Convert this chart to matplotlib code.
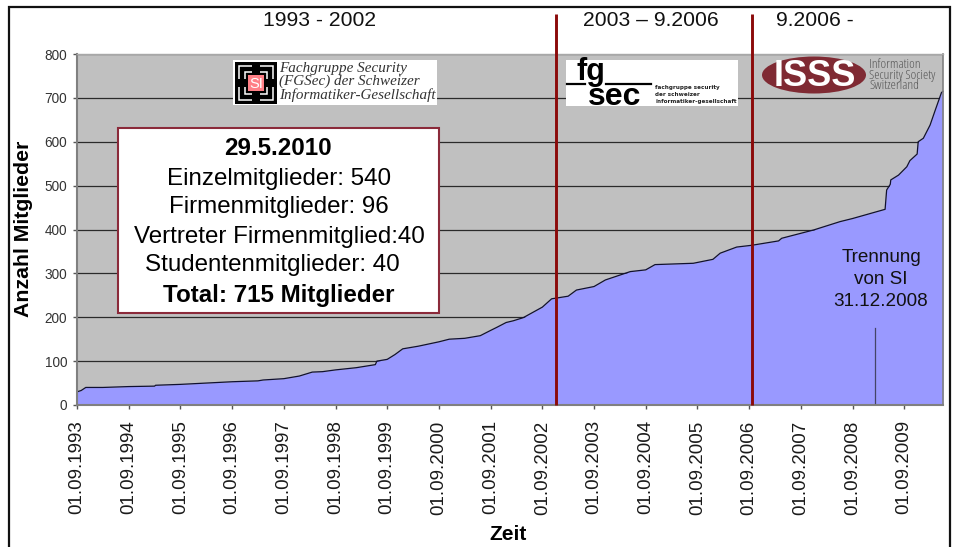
import matplotlib
matplotlib.use("Agg")
import matplotlib.pyplot as plt
from matplotlib.patches import Rectangle, Ellipse
from matplotlib.lines import Line2D
from matplotlib.transforms import Affine2D, ScaledTranslation

# Data: years since 01.09.1993 and number of members
years = [0, 0.08, 0.17, 0.5, 1, 1.5, 1.52, 2, 2.5, 3, 3.5, 3.6, 4, 4.3, 4.55, 4.75, 5, 5.4, 5.77, 5.8,
         6, 6.15, 6.3, 6.6, 7, 7.2, 7.5, 7.8, 8, 8.12, 8.3, 8.44, 8.63, 9, 9.18, 9.5, 9.66, 10,
         10.22, 10.7, 11, 11.18, 11.92, 12.3, 12.44, 12.76, 13.05, 13.57, 13.63, 14.25, 14.76, 15,
         15.63, 15.66, 15.73, 15.74, 15.89, 16.05, 16.11, 16.25, 16.27, 16.37, 16.50, 16.60, 16.72, 16.75]
members = [30, 33, 40, 40, 42, 43, 45, 47, 50, 53, 55, 57, 60, 66, 75, 76, 80, 85, 92, 100,
           104, 115, 128, 134, 144, 150, 152, 158, 170, 177, 188, 192, 199, 223, 242, 248, 262, 270,
           285, 304, 308, 320, 323, 332, 346, 360, 364, 374, 380, 399, 418, 425,
           446, 490, 503, 513, 524, 543, 557, 572, 600, 608, 638, 672, 712, 715]
year_labels = ["01.09.%d" % y for y in range(1993, 2010)]
y_ticks = [0, 100, 200, 300, 400, 500, 600, 700, 800]
era_lines = [9.265, 13.056]
separation_year = 15.44
separation_span = (5, 175)

plt.rcParams['font.family'] = ['Liberation Sans', 'DejaVu Sans']
fig = plt.figure(figsize=(9.55, 5.47), dpi=100, facecolor='white')
ax = fig.add_axes([77/955, (547-405)/547, (943-77)/955, (405-54)/547], facecolor='#C0C0C0')
P = Affine2D().scale(1, -1).translate(0, 547)

ax.set_xlim(0, 16.75)
ax.set_ylim(0, 800)
ax.set_axisbelow(True)
ax.yaxis.grid(True, color='#2a2a2a', lw=0.9)
ax.fill_between(years, members, 0, color='#9999FF', lw=0, zorder=2)
ax.plot(years, members, color='#101030', lw=0.9, zorder=3, clip_on=False)

ax.set_xticks(range(len(year_labels)))
ax.set_xticklabels(year_labels, rotation=90, fontsize=13.5, color='#1a1a1a')
shift = ScaledTranslation(1.8/100, 0, fig.dpi_scale_trans)
for lab in ax.get_xticklabels():
    lab.set_transform(lab.get_transform() + shift)
ax.set_yticks(y_ticks)
ax.tick_params(axis='y', length=3, width=1, color='#555555', pad=4, labelsize=9.8, labelcolor='#333333')
ax.tick_params(axis='x', length=3, width=1, color='#555555', pad=8)
for s, w, c in (('left', 1.5, '#808080'), ('bottom', 1.5, '#808080'), ('right', 1.2, '#808080'), ('top', 1, '#A8A8A8')):
    ax.spines[s].set_linewidth(w)
    ax.spines[s].set_color(c)
    ax.spines[s].set_zorder(4)

for xv in era_lines:
    ax.plot([xv, xv], [0, 891], color='#8B0A0A', lw=2.1, clip_on=False, zorder=5, solid_capstyle='butt')
ax.plot([separation_year]*2, separation_span, color='#444466', lw=0.9, zorder=5)


def T(x, y, s, size, ha='center', va='center', **kw):
    kw.setdefault('color', 'black')
    return fig.text(x, y, s, fontsize=size, ha=ha, va=va, transform=P, **kw)


def R(x0, y0, x1, y1, **kw):
    kw.setdefault('lw', 0)
    fig.add_artist(Rectangle((x0, y0), x1-x0, y1-y0, transform=P, **kw))


def L(xs, ys, **kw):
    fig.add_artist(Line2D(xs, ys, transform=P, **kw))


# outer frame
L([9, 9, 950, 950], [560, 7, 7, 560], color='#111111', lw=1.6, solid_joinstyle='miter')

# axis titles, period headers
T(24, 229, 'Anzahl Mitglieder', 15.3, rotation=90, fontweight='bold')
T(508, 535, 'Zeit', 15, fontweight='bold')
T(320, 20, '1993 - 2002', 15.2, color='#111111')
T(651, 20, '2003 – 9.2006', 15.2, color='#111111')
T(815, 20, '9.2006 -', 15.2, color='#111111')

# info box
R(118, 128, 439, 313, facecolor='white', edgecolor='#8B2A3A', lw=1.5, zorder=2)
for x, y, s, w in [(278, 148.5, '29.5.2010', 'bold'), (279, 178.5, 'Einzelmitglieder: 540', 'normal'),
                   (279, 207.5, 'Firmenmitglieder: 96', 'normal'), (279, 236.5, 'Vertreter Firmenmitglied:40', 'normal'),
                   (272, 265.5, 'Studentenmitglieder: 40', 'normal'), (279, 295.5, 'Total: 715 Mitglieder', 'bold')]:
    T(x, y, s, 17.4, fontweight=w)

# separation note
for y, s in [(257, 'Trennung'), (279, 'von SI'), (302, '31.12.2008')]:
    T(881, y, s, 13.6, color='#111111')

# logo 1
R(233, 60, 437, 105, facecolor='white')
R(235, 62, 277, 104, facecolor='black')
R(239, 66, 273, 100, facecolor='none', edgecolor='white', lw=1.1, zorder=2)
R(245, 72, 267, 94, facecolor='none', edgecolor='white', lw=1.1, zorder=2)
for a, b, c, d in [(252, 64, 260, 74), (252, 92, 260, 102), (237, 79, 247, 87), (265, 79, 275, 87)]:
    R(a, b, c, d, facecolor='black', zorder=2)
R(248, 75, 264, 91, facecolor='#FF7F86', zorder=2)
T(256, 83.5, 'SI', 10.5, color='white')
T(279, 82, 'Fachgruppe Security\n(FGSec) der Schweizer\nInformatiker-Gesellschaft', 10.9, ha='left',
  family='Liberation Serif', style='italic', color='#333333', linespacing=1.03)

# logo 2
R(566, 60, 738, 106, facecolor='white')
T(591, 72, 'fg', 22, fontweight='bold')
T(615, 97, 'sec', 23, fontweight='bold')
L([567, 585], [84, 84], color='black', lw=1.6)
L([606, 651], [84, 84], color='black', lw=1.6)
T(655, 94.5, 'fachgruppe security\nder schweizer\ninformatiker-gesellschaft', 4.1, ha='left',
  fontweight='bold', family='DejaVu Sans', color='#222222', linespacing=1.5)

# logo 3
fig.add_artist(Ellipse((814, 75), 104, 37, transform=P, facecolor='#7F2A33', lw=0))
T(815, 76.5, 'ISSS', 26, color='white', fontweight='bold')
T(869, 75, 'Information\nSecurity Society\nSwitzerland', 9.6, ha='left', family='Open Sans',
  stretch='condensed', color='#555555', linespacing=0.78)

fig.savefig('out.png', dpi=100, facecolor='white')
